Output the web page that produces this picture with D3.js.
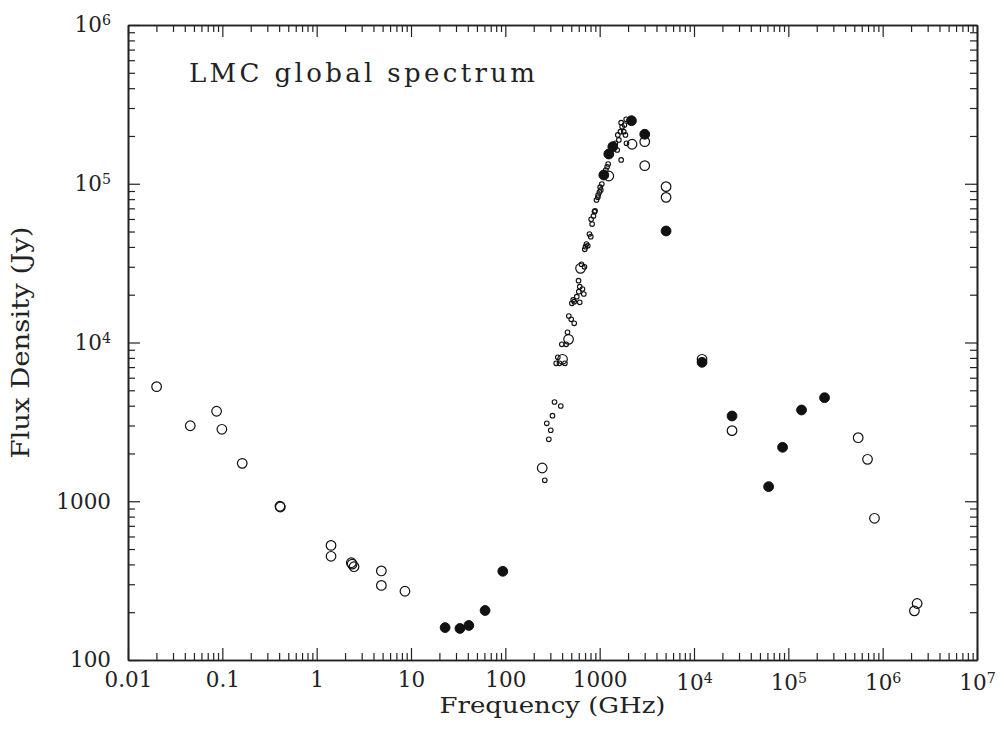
<!DOCTYPE html>
<html>
<head>
<meta charset="utf-8">
<script src="https://cdn.jsdelivr.net/npm/d3@7"></script>
<style>
html,body{margin:0;padding:0;background:#fff;}
svg{display:block;}
</style>
</head>
<body>
<svg id="chart" width="1004" height="734"></svg>
<script>
// ---- data (frequency in GHz, flux density in Jy) ----
const openLargeFreq = [0.0201,0.0457,0.0869,0.0989,0.1626,0.408,0.412,1.42,1.42,2.33,2.38,2.49,4.85,4.85,8.63,
  246,404,468,627,1250,2206,3005,3005,5058,5058,12170,25300,550000,691000,819000,2.32e6,2.17e6];
const openLargeFlux = [5270,2990,3690,2840,1733,930,920,527,450,410,402,387,364,295,271,
  1620,7840,10470,29330,111900,177300,184100,130000,95900,82100,7840,2785,2514,1837,781,227,204];

const openSmallFreq = [262,289,303,275,316,332,387,346,375,428,360,397,442,456,471,499,537,507,537,615,524,572,601,679,615,657,597,
  641,690,708,725,748,695,779,805,832,812,859,881,893,925,955,964,995,1028,1012,1054,1161,1200,1230,
  1535,1470,1597,1557,1661,1730,1832,1690,1910,1800,1875,1690,1923];
const openSmallFlux = [1355,2456,2800,3097,3460,4220,3980,7390,7390,7390,8070,9740,9740,11590,14690,14000,13210,17660,18070,17910,18530,19440,20890,20210,22480,21730,24500,
  31100,30000,40150,41700,40700,38650,48250,46400,55750,59700,62650,66700,67500,79000,82200,84900,88700,91400,95100,99600,122100,128000,133200,
  163200,179800,188800,202900,212800,228600,234400,242500,254700,212800,202900,141200,179800];

const filledFreq = [23,33,41,61,94,1107,1250,1378,2172,3005,5058,12170,25300,61800,86900,138000,242000];
const filledFlux = [160,158,165,205,362,113500,153900,171200,249500,205000,50400,7500,3444,1236,2187,3757,4490];

const xMajorTicks = [0.01,0.1,1,10,100,1000,1e4,1e5,1e6,1e7];
const xTickLabels = ["0.01","0.1","1","10","100","1000","10^4","10^5","10^6","10^7"];
const yMajorTicks = [100,1000,1e4,1e5,1e6];
const yTickLabels = ["100","1000","10^4","10^5","10^6"];

const titleText = "LMC global spectrum";
const xTitle = "Frequency (GHz)";
const yTitle = "Flux Density (Jy)";

// ---- layout ----
const L = 128, R = 977, T = 25, B = 660;
const svg = d3.select("#chart");
const x = d3.scaleLog().domain([0.01,1e7]).range([L,R]);
const y = d3.scaleLog().domain([100,1e6]).range([B,T]);
const FONT = "'DejaVu Serif', 'Liberation Serif', serif";
const INK = "#222";

function minorTicks(dom){
  const out=[];
  for(let e=Math.log10(dom[0]); e<Math.log10(dom[1]); e++){
    for(let m=2;m<=9;m++) out.push(m*Math.pow(10,e));
  }
  return out;
}
const xMinor = minorTicks(x.domain());
const yMinor = minorTicks(y.domain());

function styleAxis(g){
  g.selectAll("path.domain").attr("stroke",INK).attr("stroke-width",1.6);
  g.selectAll(".tick line").attr("stroke",INK).attr("stroke-width",1.2);
}

// minor ticks
[[d3.axisBottom(x),`translate(0,${B})`,xMinor],[d3.axisTop(x),`translate(0,${T})`,xMinor],
 [d3.axisLeft(y),`translate(${L},0)`,yMinor],[d3.axisRight(y),`translate(${R},0)`,yMinor]].forEach(([ax,tr,vals])=>{
  svg.append("g").attr("transform",tr)
    .call(ax.tickValues(vals).tickSizeInner(-7).tickSizeOuter(0).tickFormat(""))
    .call(styleAxis);
});
// major ticks without labels on top/right
svg.append("g").attr("transform",`translate(0,${T})`)
  .call(d3.axisTop(x).tickValues(xMajorTicks).tickSizeInner(-12).tickSizeOuter(0).tickFormat(""))
  .call(styleAxis);
svg.append("g").attr("transform",`translate(${R},0)`)
  .call(d3.axisRight(y).tickValues(yMajorTicks).tickSizeInner(-12).tickSizeOuter(0).tickFormat(""))
  .call(styleAxis);

function setLabel(sel, labels, ticks){
  sel.selectAll(".tick text").each(function(d){
    const lab = labels[ticks.indexOf(d)];
    const t = d3.select(this);
    t.text(null);
    if(lab.indexOf("^")>=0){
      const [b,e] = lab.split("^");
      t.append("tspan").text(b);
      t.append("tspan").attr("dy","-0.5em").attr("font-size","0.66em").text(e);
    } else t.text(lab);
  });
}

// bottom major with labels
const gx = svg.append("g").attr("transform",`translate(0,${B})`)
  .call(d3.axisBottom(x).tickValues(xMajorTicks).tickSizeInner(-12).tickSizeOuter(0).tickPadding(12).tickFormat(d=>d))
  .call(styleAxis);
gx.selectAll(".tick text").attr("font-family",FONT).attr("font-size",21.5).attr("fill",INK);
setLabel(gx, xTickLabels, xMajorTicks);
gx.selectAll(".tick text").filter(d=>d>=1e4).attr("dy","0.86em");

// left major with labels
const gy = svg.append("g").attr("transform",`translate(${L},0)`)
  .call(d3.axisLeft(y).tickValues(yMajorTicks).tickSizeInner(-12).tickSizeOuter(0).tickPadding(17).tickFormat(d=>d))
  .call(styleAxis);
gy.selectAll(".tick text").attr("font-family",FONT).attr("font-size",21.5).attr("fill",INK);
setLabel(gy, yTickLabels, yMajorTicks);

// ---- marks ----
const openSmall = openSmallFreq.map((f,i)=>[f,openSmallFlux[i]]);
const openLarge = openLargeFreq.map((f,i)=>[f,openLargeFlux[i]]);
const filled = filledFreq.map((f,i)=>[f,filledFlux[i]]);

svg.append("g").selectAll("circle").data(openSmall).join("circle")
  .attr("cx",d=>x(d[0])).attr("cy",d=>y(d[1])).attr("r",2.3)
  .attr("fill","none").attr("stroke","#111").attr("stroke-width",1.1);
svg.append("g").selectAll("circle").data(openLarge).join("circle")
  .attr("cx",d=>x(d[0])).attr("cy",d=>y(d[1])).attr("r",4.8)
  .attr("fill","none").attr("stroke","#111").attr("stroke-width",1.2);
svg.append("g").selectAll("circle").data(filled).join("circle")
  .attr("cx",d=>x(d[0])).attr("cy",d=>y(d[1])).attr("r",4.9)
  .attr("fill","#111").attr("stroke","#111").attr("stroke-width",1);

// ---- titles ----
svg.append("text").attr("x",189).attr("y",82)
  .attr("font-family",FONT).attr("font-size",26).attr("fill",INK)
  .attr("textLength",346).attr("lengthAdjust","spacing").text(titleText);

svg.append("text").attr("x",(L+R)/2).attr("y",713).attr("text-anchor","middle")
  .attr("font-family",FONT).attr("font-size",23).attr("fill",INK)
  .attr("textLength",226).attr("lengthAdjust","spacingAndGlyphs").text(xTitle);

svg.append("text").attr("transform",`translate(29,${(T+B)/2}) rotate(-90)`).attr("text-anchor","middle")
  .attr("font-family",FONT).attr("font-size",24).attr("fill",INK)
  .attr("textLength",232).attr("lengthAdjust","spacingAndGlyphs").text(yTitle);
</script>
</body>
</html>
